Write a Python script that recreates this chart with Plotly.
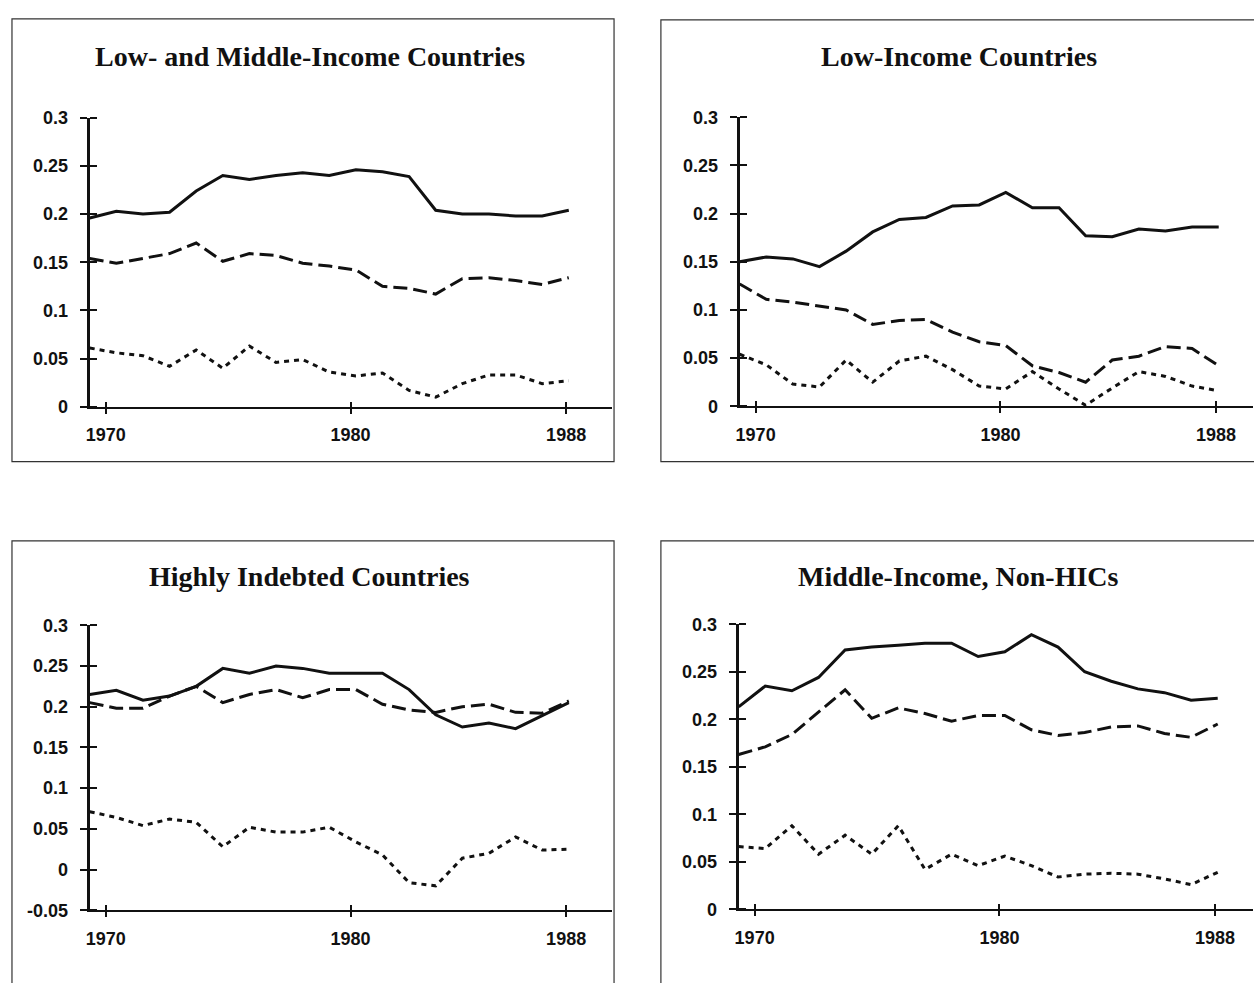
import plotly.graph_objects as go

# Years covered by every panel
years = list(range(1970, 1989))

# Low- and Middle-Income Countries
lmi_solid = [0.196, 0.203, 0.200, 0.202, 0.224, 0.240, 0.236, 0.240, 0.243, 0.240,
             0.246, 0.244, 0.239, 0.204, 0.200, 0.200, 0.198, 0.198, 0.204]
lmi_dash = [0.154, 0.149, 0.154, 0.159, 0.170, 0.151, 0.159, 0.157, 0.149, 0.146,
            0.142, 0.125, 0.123, 0.117, 0.133, 0.134, 0.131, 0.127, 0.134]
lmi_dot = [0.061, 0.056, 0.053, 0.042, 0.059, 0.040, 0.063, 0.046, 0.049, 0.036,
           0.032, 0.035, 0.017, 0.010, 0.024, 0.033, 0.033, 0.024, 0.027]

# Low-Income Countries
li_solid = [0.150, 0.155, 0.153, 0.145, 0.161, 0.181, 0.194, 0.196, 0.208, 0.209,
            0.222, 0.206, 0.206, 0.177, 0.176, 0.184, 0.182, 0.186, 0.186]
li_dash = [0.127, 0.111, 0.108, 0.104, 0.100, 0.085, 0.089, 0.090, 0.077, 0.067,
           0.063, 0.042, 0.035, 0.025, 0.048, 0.052, 0.062, 0.060, 0.042]
li_dot = [0.054, 0.043, 0.023, 0.020, 0.048, 0.025, 0.047, 0.052, 0.038, 0.021,
          0.018, 0.036, 0.018, 0.001, 0.019, 0.036, 0.031, 0.021, 0.016]

# Highly Indebted Countries
hic_solid = [0.215, 0.220, 0.208, 0.213, 0.225, 0.247, 0.241, 0.250, 0.247, 0.241,
             0.241, 0.241, 0.221, 0.190, 0.175, 0.180, 0.173, 0.189, 0.205]
hic_dash = [0.205, 0.198, 0.198, 0.213, 0.225, 0.205, 0.215, 0.221, 0.211, 0.221,
            0.221, 0.203, 0.196, 0.193, 0.200, 0.203, 0.193, 0.192, 0.207]
hic_dot = [0.071, 0.064, 0.054, 0.062, 0.058, 0.028, 0.052, 0.046, 0.046, 0.052,
           0.034, 0.018, -0.016, -0.020, 0.014, 0.020, 0.040, 0.024, 0.025]

# Middle-Income, Non-HICs
mi_solid = [0.213, 0.235, 0.230, 0.244, 0.273, 0.276, 0.278, 0.280, 0.280, 0.266,
            0.271, 0.289, 0.276, 0.250, 0.240, 0.232, 0.228, 0.220, 0.222]
mi_dash = [0.163, 0.171, 0.184, 0.207, 0.231, 0.201, 0.212, 0.206, 0.198, 0.204,
           0.204, 0.189, 0.183, 0.186, 0.192, 0.193, 0.185, 0.181, 0.195]
mi_dot = [0.066, 0.064, 0.088, 0.058, 0.078, 0.058, 0.088, 0.042, 0.058, 0.046,
          0.056, 0.046, 0.034, 0.037, 0.038, 0.037, 0.032, 0.026, 0.039]

titles = ["Low- and Middle-Income Countries", "Low-Income Countries",
          "Highly Indebted Countries", "Middle-Income, Non-HICs"]

x_tick_text = ["1970", "1980", "1988"]
x_tick_pos = [1970.6, 1979.8, 1987.9]

y_ticks_pos = [0, 0.05, 0.1, 0.15, 0.2, 0.25, 0.3]
y_ticks_text = ["0", "0.05", "0.1", "0.15", "0.2", "0.25", "0.3"]
y_ticks_pos_neg = [-0.05] + y_ticks_pos
y_ticks_text_neg = ["-0.05"] + y_ticks_text

W, H = 1254, 983
PX_PER_YEAR = 26.7

# Panel geometry in pixels: plot edges, title centre and surrounding frame
panels = [
    dict(left=86, right=610, bot=405, top=110, yr=[0, 0.3], title_x=307, title_y=47,
         frame=(8, 9, 612, 461), series=(lmi_solid, lmi_dash, lmi_dot)),
    dict(left=738, right=1253, bot=404.5, top=109.5, yr=[0, 0.3], title_x=958, title_y=47,
         frame=(659, 10, 1260, 461), series=(li_solid, li_dash, li_dot)),
    dict(left=86, right=610, bot=919, top=628, yr=[-0.05, 0.3], title_x=306, title_y=578,
         frame=(8, 542, 612, 1000), series=(hic_solid, hic_dash, hic_dot)),
    dict(left=737, right=1253, bot=918, top=627, yr=[0, 0.3], title_x=958, title_y=578,
         frame=(659, 542, 1260, 1000), series=(mi_solid, mi_dash, mi_dot)),
]

tick_font = dict(family="Liberation Sans, Arial, sans-serif", size=18, color="#111",
                 weight="bold")
title_font = dict(family="Liberation Serif, Times New Roman, serif", size=28, color="#111")
ink = "#111"

styles = [
    dict(dash="solid", width=3),
    dict(dash="14px,6px", width=3),
    dict(dash="5px,5px", width=3),
]

fig = go.Figure()
layout = {}
shapes = []
annotations = []

for i, p in enumerate(panels):
    n = i + 1
    sfx = "" if n == 1 else str(n)
    xdom = [p["left"] / W, p["right"] / W]
    ydom = [1 - p["bot"] / H, 1 - p["top"] / H]
    xr = [1970, 1970 + (p["right"] - p["left"]) / PX_PER_YEAR]

    for vals, st in zip(p["series"], styles):
        fig.add_trace(go.Scatter(
            x=years, y=vals, mode="lines",
            line=dict(color=ink, width=st["width"], dash=st["dash"]),
            xaxis="x" + sfx, yaxis="y" + sfx, showlegend=False, hoverinfo="skip",
        ))

    if p["yr"][0] < 0:
        yv, yt = y_ticks_pos_neg, y_ticks_text_neg
    else:
        yv, yt = y_ticks_pos, y_ticks_text

    # Minor ticks, nudged off the major positions, form the inner half of each cross tick
    layout["xaxis" + sfx] = dict(
        domain=xdom, range=xr, anchor="y" + sfx, showgrid=False, zeroline=False,
        showline=True, linecolor=ink, linewidth=2,
        tickmode="array", tickvals=x_tick_pos, ticktext=x_tick_text,
        ticks="outside", ticklen=5, tickwidth=2, tickcolor=ink,
        minor=dict(tickvals=[v + 1e-6 for v in x_tick_pos], ticks="inside",
                   ticklen=5, tickwidth=2, tickcolor=ink, showgrid=False),
        tickfont=tick_font, ticklabelstandoff=6, fixedrange=True,
    )
    layout["yaxis" + sfx] = dict(
        domain=ydom, range=p["yr"], anchor="x" + sfx, showgrid=False, zeroline=False,
        showline=True, linecolor=ink, linewidth=3,
        tickmode="array", tickvals=yv, ticktext=yt,
        ticks="outside", ticklen=7, tickwidth=2, tickcolor=ink,
        minor=dict(tickvals=[v + 1e-9 for v in yv], ticks="inside",
                   ticklen=7, tickwidth=2, tickcolor=ink, showgrid=False),
        tickfont=tick_font, ticklabelstandoff=8, fixedrange=True,
    )

    x0, y0, x1, y1 = p["frame"]
    shapes.append(dict(type="rect", xref="paper", yref="paper",
                       x0=x0 / W, x1=x1 / W, y0=1 - y1 / H, y1=1 - y0 / H,
                       line=dict(color="#333", width=1.2), layer="below"))

    annotations.append(dict(text="<b>" + titles[i] + "</b>", xref="paper", yref="paper",
                            x=p["title_x"] / W, y=1 - p["title_y"] / H,
                            xanchor="center", yanchor="middle", showarrow=False,
                            font=title_font))

fig.update_layout(
    width=W, height=H, margin=dict(l=0, r=0, t=0, b=0),
    paper_bgcolor="white", plot_bgcolor="rgba(0,0,0,0)",
    shapes=shapes, annotations=annotations, showlegend=False,
    **layout,
)

fig.write_html("out.html", include_plotlyjs=True, config={"displayModeBar": False})
